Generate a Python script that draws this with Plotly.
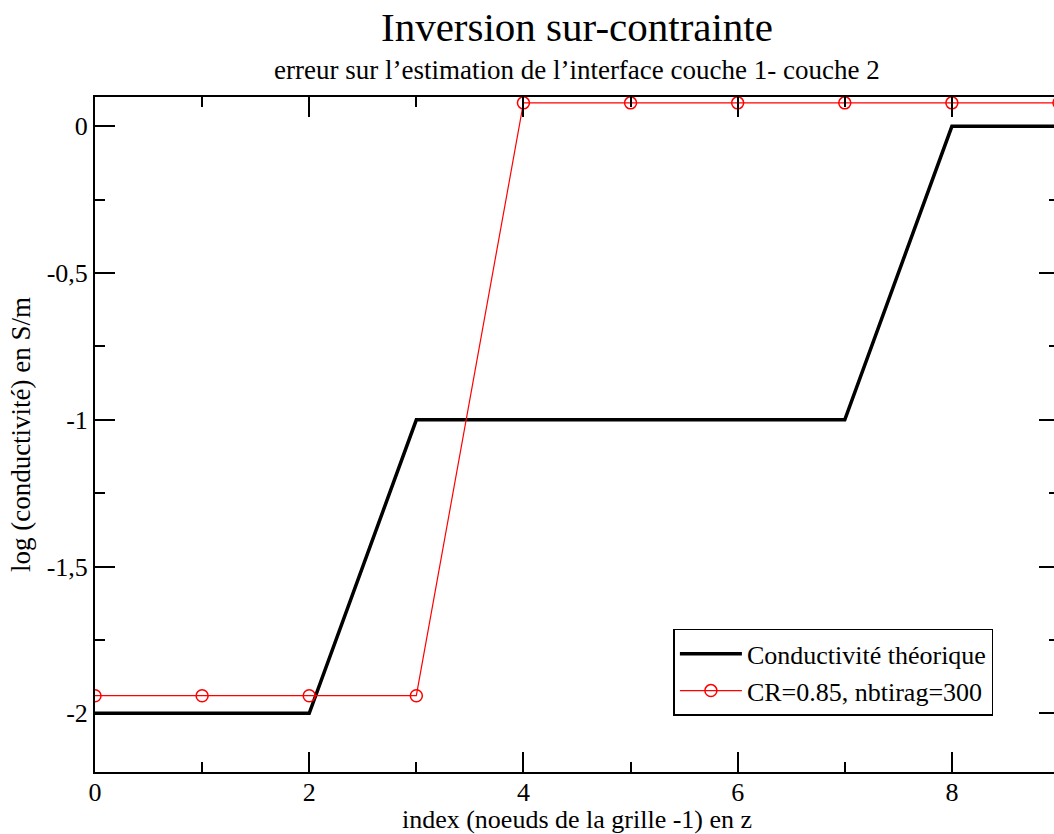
import plotly.graph_objects as go

# Data
x_theo = [0, 1, 2, 3, 4, 5, 6, 7, 8, 9]
y_theo = [-2, -2, -2, -1, -1, -1, -1, -1, 0, 0]
x_inv = [0, 1, 2, 3, 4, 5, 6, 7, 8, 9]
y_inv = [-1.94, -1.94, -1.94, -1.94, 0.08, 0.08, 0.08, 0.08, 0.08, 0.08]

x_ticks = [0, 2, 4, 6, 8]
y_ticks = [0, -0.5, -1, -1.5, -2]
y_ticktext = ["0", "-0,5", "-1", "-1,5", "-2"]

FONT = "Liberation Serif"

fig = go.Figure()
fig.add_trace(go.Scatter(x=x_theo, y=y_theo, mode="lines",
                         line=dict(color="black", width=3.5),
                         name="Conductivité théorique"))
fig.add_trace(go.Scatter(x=x_inv, y=y_inv, mode="lines+markers",
                         line=dict(color="red", width=1.2),
                         marker=dict(symbol="circle-open", size=12, color="red",
                                     line=dict(width=1.5, color="red")),
                         name="CR=0.85, nbtirag=300"))

axis_common = dict(showline=True, linecolor="black", linewidth=2, mirror="allticks",
                   ticks="inside", ticklen=20, tickwidth=1.5, tickcolor="black",
                   showgrid=False, zeroline=False, automargin=False,
                   tickfont=dict(family=FONT, size=26, color="black"))

fig.update_xaxes(range=[0, 9], tickvals=x_ticks, ticklabelstandoff=-4,
                 minor=dict(dtick=1, ticks="inside", ticklen=10, tickwidth=1.5,
                            tickcolor="black", showgrid=False),
                 title=dict(text="index (noeuds de la grille -1) en z",
                            font=dict(family=FONT, size=26, color="black"), standoff=12),
                 **axis_common)
fig.update_yaxes(range=[-2.2, 0.1], tickvals=y_ticks, ticktext=y_ticktext,
                 minor=dict(tickvals=[-0.25, -0.75, -1.25, -1.75], ticks="inside",
                            ticklen=10, tickwidth=1.5, tickcolor="black", showgrid=False),
                 title=dict(text="log (conductivité) en S/m",
                            font=dict(family=FONT, size=27, color="black"), standoff=8),
                 **axis_common)

fig.add_annotation(text="Inversion sur-contrainte", xref="paper", yref="paper",
                   x=0.5, y=1, yshift=70, yanchor="middle", showarrow=False,
                   font=dict(family=FONT, size=41, color="black"))
fig.add_annotation(text="erreur sur l’estimation de l’interface couche 1- couche 2",
                   xref="paper", yref="paper", x=0.5, y=1, yshift=27, yanchor="middle",
                   showarrow=False, font=dict(family=FONT, size=27, color="black"))

fig.update_layout(
    width=1080, height=834,
    margin=dict(l=95, r=21, t=97, b=62),
    plot_bgcolor="white", paper_bgcolor="white",
    showlegend=True,
    legend=dict(x=0.600, y=0.212, xanchor="left", yanchor="top",
                bgcolor="white", bordercolor="black", borderwidth=1.5,
                font=dict(family=FONT, size=26, color="black"),
                itemwidth=62, tracegroupgap=0),
)

fig.write_html("out.html", config={"displayModeBar": False},
               post_script="document.body.style.margin='0';document.body.style.overflow='hidden';")
